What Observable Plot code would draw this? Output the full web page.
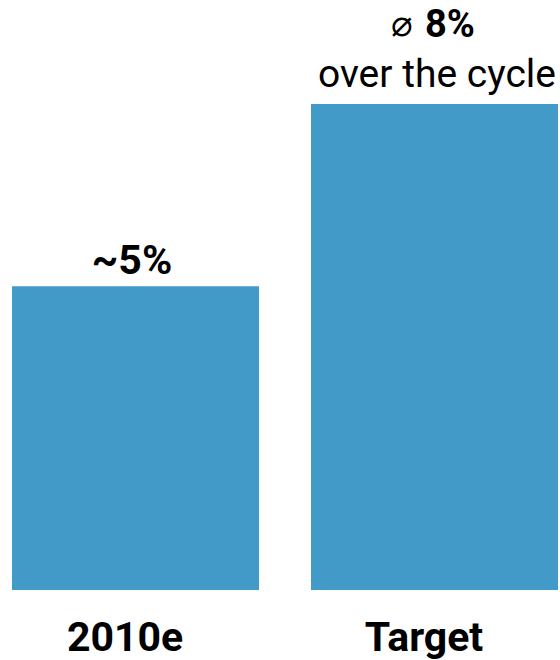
<!DOCTYPE html>
<html>
<head>
<meta charset="utf-8">
<script src="https://cdn.jsdelivr.net/npm/d3@7"></script>
<script src="https://cdn.jsdelivr.net/npm/@observablehq/plot@0.6"></script>
<style>
  html, body { margin: 0; padding: 0; background: #fff; }
  svg { display: block; }
</style>
</head>
<body>
<div id="chart"></div>
<script>
const categories = ["2010e", "Target"];
const values = [5, 8];
const valueLabels = ["~5%", "8%"];
const prefix = ["", "⌀"];
const subLabels = ["", "over the cycle"];

const data = categories.map((c, i) => ({
  cat: c, value: values[i], label: valueLabels[i], prefix: prefix[i], sub: subLabels[i]
}));
const first = data.filter((d, i) => i === 0);
const second = data.filter((d, i) => i === 1);

const chart = Plot.plot({
  width: 560,
  height: 660,
  marginTop: 104,
  marginBottom: 70,
  marginLeft: 12,
  marginRight: 2,
  style: { fontFamily: "Roboto, 'Noto Sans', sans-serif", background: "#fff" },
  x: { domain: categories, paddingInner: 0.174, paddingOuter: 0, label: null },
  y: { domain: [0, 8], axis: null },
  marks: [
    Plot.barY(data, { x: "cat", y: "value", fill: "#429AC9" }),
    Plot.axisX({ tickSize: 0, tickPadding: 31, dx: -11, fontSize: 41, fontWeight: "bold", fill: "#000", label: null }),
    Plot.text(first, { x: "cat", y: "value", text: "label", dy: -26, dx: -4, fontSize: 41, fontWeight: "bold", fill: "#000" }),
    Plot.text(second, { x: "cat", y: "value", text: "label", dy: -80, dx: -10, textAnchor: "start", fontSize: 38, fontWeight: "bold", fill: "#000" }),
    Plot.text(second, { x: "cat", y: "value", text: "prefix", dy: -80, dx: -22, textAnchor: "end", fontSize: 36, fill: "#000" }),
    Plot.text(second, { x: "cat", y: "value", text: "sub", dy: -29.5, dx: 2, fontSize: 39, fill: "#000" })
  ]
});
document.getElementById("chart").appendChild(chart);
</script>
</body>
</html>
